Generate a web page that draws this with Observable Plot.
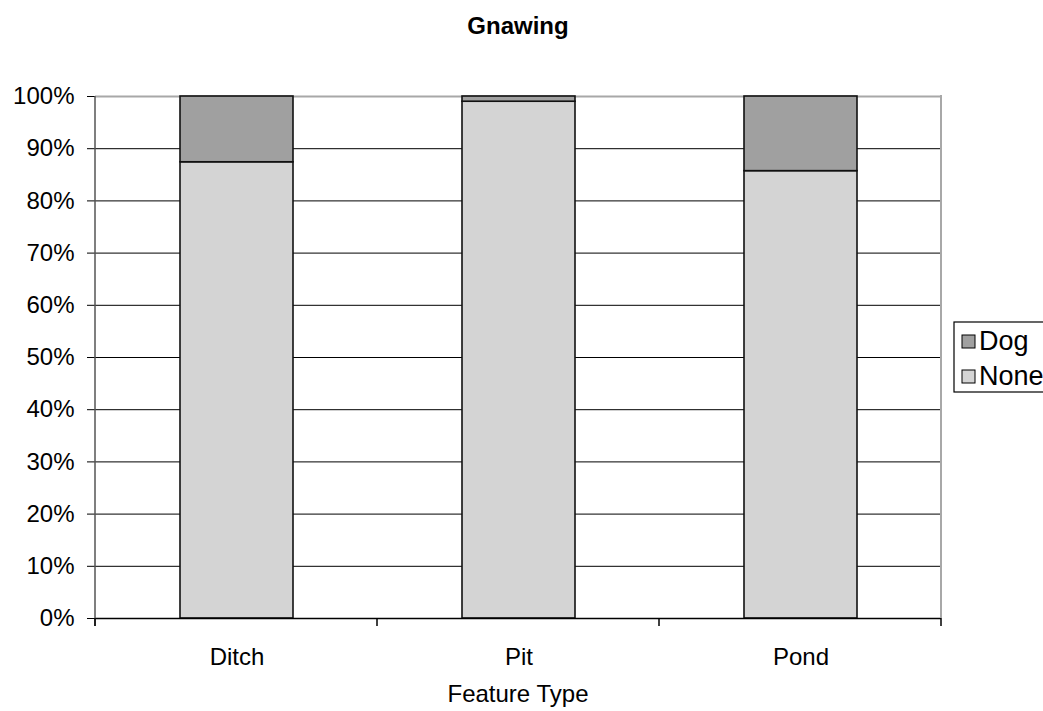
<!DOCTYPE html>
<html>
<head>
<meta charset="utf-8">
<script src="https://cdn.jsdelivr.net/npm/d3@7"></script>
<script src="https://cdn.jsdelivr.net/npm/@observablehq/plot@0.6"></script>
<style>
  body { margin: 0; background: #fff; }
  #chart { width: 1043px; height: 711px; overflow: hidden; }
</style>
</head>
<body>
<div id="chart"></div>
<script>
// Share of gnawed bone by feature type (percent of each feature's total)
const features = ["Ditch", "Pit", "Pond"];
const gnawTypes = ["Dog", "None"];
const noneShare = [87.4, 99.0, 85.7];
const dogShare = [12.6, 1.0, 14.3];
const yTicks = [0, 10, 20, 30, 40, 50, 60, 70, 80, 90, 100];
const typeColors = ["#a0a0a0", "#d4d4d4"];

const FONT = "'Liberation Sans', Arial, sans-serif";
const FS = 24;

// None at the bottom of each stack, Dog on top
const rows = features.flatMap((f, i) => [
  { feature: f, type: "None", value: noneShare[i] },
  { feature: f, type: "Dog", value: dogShare[i] }
]);

const chart = Plot.plot({
  width: 1043,
  height: 711,
  marginLeft: 95,
  marginRight: 102,
  marginTop: 96,
  marginBottom: 93,
  style: { fontFamily: FONT, fontSize: FS + "px", background: "white", color: "black" },
  x: { domain: features, paddingInner: 0.6, paddingOuter: 0.3, label: null },
  y: { domain: [0, 100], label: null },
  color: { domain: gnawTypes, range: typeColors },
  marks: [
    Plot.ruleY(yTicks.filter(t => t > 0 && t < 100), { stroke: "black", strokeWidth: 1 }),
    Plot.ruleY([100], { stroke: "#a8a8a8", strokeWidth: 2 }),
    Plot.barY(rows, {
      x: "feature", y: "value", fill: "type",
      stroke: "#111", strokeWidth: 1.6
    }),
    Plot.ruleY([0], { stroke: "black", strokeWidth: 1.5 }),
    Plot.axisY({
      ticks: yTicks, tickFormat: d => d + "%", tickSize: 8, tickPadding: 13,
      fontSize: FS, label: null
    }),
    Plot.axisX({ tickSize: 0, tickPadding: 29, fontSize: FS, label: null })
  ]
});

const svg = d3.select(chart);
const x = chart.scale("x");
const y = chart.scale("y");
const [x0, x1] = x.range;
const yTop = y.apply(100), yBot = y.apply(0);

// plot-area edges: dark left axis, light right border
svg.append("line").attr("x1", x0).attr("x2", x0).attr("y1", yTop).attr("y2", yBot + 8)
  .attr("stroke", "#555").attr("stroke-width", 1.5);
svg.append("line").attr("x1", x1).attr("x2", x1).attr("y1", yTop - 1).attr("y2", yBot)
  .attr("stroke", "#a8a8a8").attr("stroke-width", 2);

// category-boundary ticks on the x axis
d3.range(features.length + 1).forEach(i => {
  const bx = x0 + i * x.step;
  svg.append("line").attr("x1", bx).attr("x2", bx).attr("y1", yBot).attr("y2", yBot + 8)
    .attr("stroke", "black").attr("stroke-width", 1.5);
});

const midX = (x0 + x1) / 2;
// title
svg.append("text").attr("x", midX).attr("y", 34).attr("text-anchor", "middle")
  .attr("font-family", FONT).attr("font-size", FS).attr("font-weight", "bold")
  .text("Gnawing");
// x axis title
svg.append("text").attr("x", midX).attr("y", 702).attr("text-anchor", "middle")
  .attr("font-family", FONT).attr("font-size", FS)
  .text("Feature Type");

// legend (runs off the right edge of the canvas)
const lg = svg.append("g").attr("transform", "translate(954,322)");
lg.append("rect").attr("x", 0).attr("y", 0).attr("width", 120).attr("height", 70)
  .attr("fill", "white").attr("stroke", "black").attr("stroke-width", 1.2);
gnawTypes.forEach((t, i) => {
  const row = lg.append("g").attr("transform", `translate(8,${13 + i * 35})`);
  row.append("rect").attr("width", 13).attr("height", 13)
    .attr("fill", typeColors[i]).attr("stroke", "black").attr("stroke-width", 1);
  row.append("text").attr("x", 17).attr("y", 14.5).attr("text-anchor", "start")
    .attr("font-family", FONT).attr("font-size", 27).text(t);
});

document.getElementById("chart").appendChild(chart);
</script>
</body>
</html>
